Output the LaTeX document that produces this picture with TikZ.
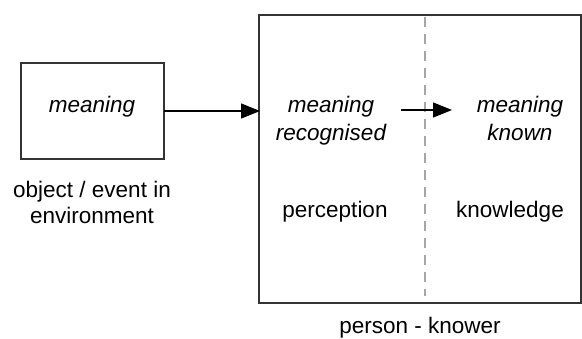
\documentclass[tikz,border=0pt]{standalone}
\usepackage{fontspec}
\setmainfont{Liberation Sans}
\usetikzlibrary{arrows.meta}
\begin{document}
\begin{tikzpicture}[x=1pt,y=-1pt,
  box/.style={draw=black!80,line width=1.4pt},
  lbl/.style={font=\fontsize{22.5}{26}\selectfont,align=center,inner sep=0pt,anchor=base},
  ital/.style={font=\fontsize{22.5}{28}\selectfont\itshape,align=center,inner sep=0pt,anchor=base},
  conn/.style={line width=1.4pt,-{Triangle[length=19pt,width=15pt]}}]
\useasboundingbox (0,0) rectangle (582,338);
\draw[box] (21,63) rectangle (164,159);
\draw[box] (259,15) rectangle (581,303);
\node[ital] (m1) at (92,112) {meaning};
\coordinate (src) at (164,111);
\coordinate (dst) at (260,111);
\draw[conn] (src) -- (dst);
\coordinate (dtop) at (425,17);
\coordinate (dbot) at (425,296);
\draw[black!35,line width=1.4pt,dash pattern=on 10pt off 7pt] (dtop) -- (dbot);
\node[ital] (m2) at (331,140) {meaning\\recognised};
\node[ital] (m3) at (520,140) {meaning\\known};
\coordinate (a2s) at (401,110);
\coordinate (a2e) at (452,110);
\draw[conn] (a2s) -- (a2e);
\node[lbl] (obj) at (92,223) {object / event in\\environment};
\node[lbl] (perc) at (335,217) {perception};
\node[lbl] (know) at (510,217) {knowledge};
\node[lbl] (pk) at (420,333) {person - knower};
\end{tikzpicture}
\end{document}
